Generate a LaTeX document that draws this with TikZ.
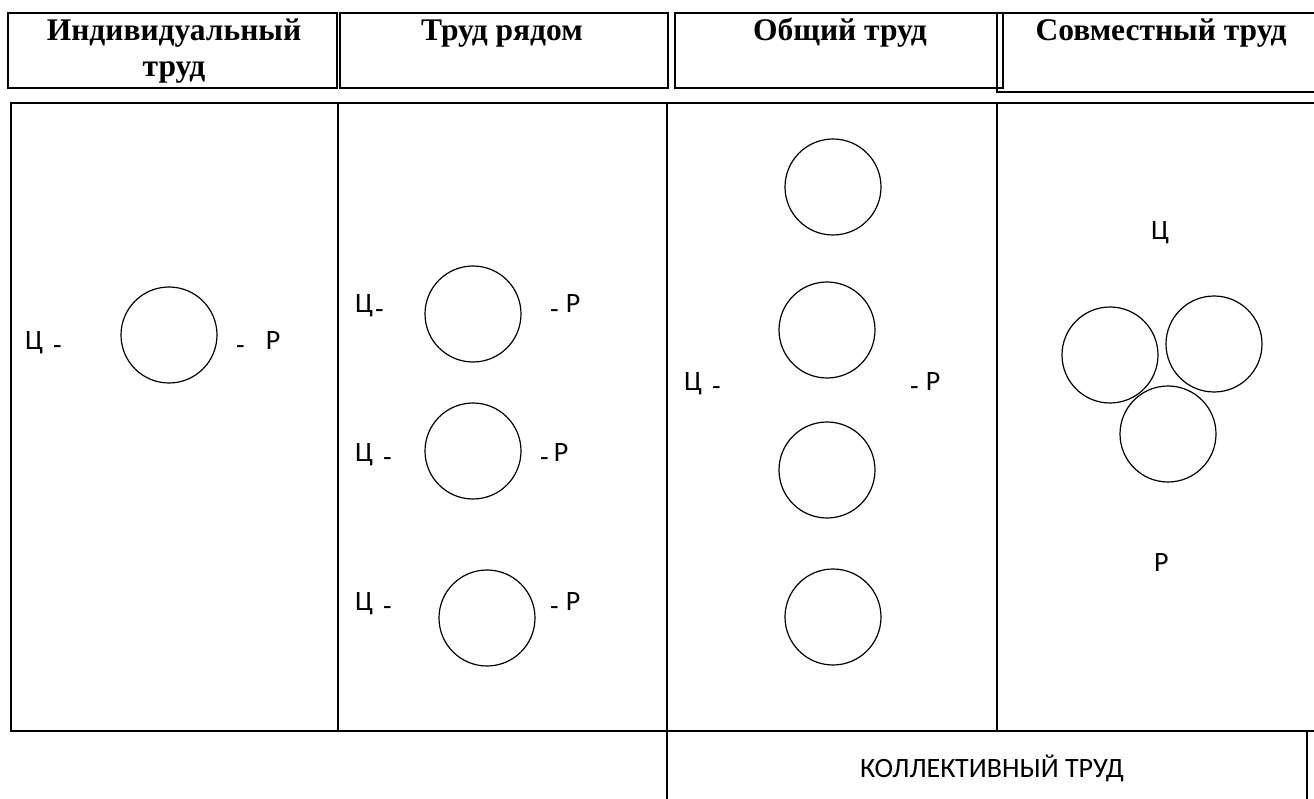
\documentclass[tikz,border=0pt]{standalone}
\usepackage{fontspec}
\setmainfont{Liberation Serif}
\newfontfamily\labfont{Carlito}
\newcommand\lowdash{\raisebox{-5.5pt}{-}}
\tikzset{
  frame/.style={draw=black, line width=1.2pt},
  hdr/.style={draw=black, line width=1.2pt, inner sep=0pt, fill=none},
  htext/.style={inner sep=0pt, font=\bfseries\fontsize{31.5}{36}\selectfont},
  lab/.style={inner sep=0pt, font=\labfont\fontsize{28}{32}\selectfont},
  ring/.style={circle, draw=black, line width=1.2pt, minimum size=96pt, inner sep=0pt},
}
\begin{document}
\begin{tikzpicture}[x=1pt,y=-1pt]
\useasboundingbox (0,0) rectangle (1314,799);
% header boxes
\node[hdr, minimum width=329pt, minimum height=75pt] (h1) at (172.5,50.5) {};
\node[hdr, minimum width=328pt, minimum height=75pt] (h2) at (504,50.5) {};
\node[hdr, minimum width=328pt, minimum height=75pt] (h3) at (839,50.5) {};
\coordinate (h4a) at (1314,13);
\coordinate (h4b) at (997,13);
\coordinate (h4c) at (997,92);
\coordinate (h4d) at (1314,92);
\draw[frame] (h4a) -- (h4b) -- (h4c) -- (h4d);
% header texts
\node[htext, anchor=base] (t1a) at (174,41) {Индивидуальный};
\node[htext, anchor=base] (t1b) at (174,77) {труд};
\node[htext, anchor=base] (t2) at (502,41) {Труд рядом};
\node[htext, anchor=base] (t3) at (840,41) {Общий труд};
\node[htext, anchor=base] (t4) at (1161,41) {Совместный труд};
% main panel
\coordinate (tl) at (11,103);
\coordinate (tr) at (1314,103);
\coordinate (bl) at (11,731);
\coordinate (br) at (1314,731);
\draw[frame] (tr) -- (tl) -- (bl) -- (br);
\coordinate (d1t) at (338,103); \coordinate (d1b) at (338,731);
\coordinate (d2t) at (667,103); \coordinate (d2b) at (667,799);
\coordinate (d3t) at (997,103); \coordinate (d3b) at (997,731);
\draw[frame] (d1t) -- (d1b);
\draw[frame] (d2t) -- (d2b);
\draw[frame] (d3t) -- (d3b);
% collective box
\coordinate (k1) at (667,731);
\coordinate (k2) at (1307,731);
\coordinate (k3) at (1307,799);
\draw[frame] (k1) -- (k2) -- (k3);
\node[lab, anchor=base] (kt) at (992,777) {КОЛЛЕКТИВНЫЙ ТРУД};
% column 1
\node[ring] (c11) at (169,335) {};
\node[lab, anchor=base west] (c1l) at (25,349) {Ц\hspace{10pt}\lowdash};
\node[lab, anchor=base west] (c1r) at (236,349) {\lowdash\hspace{21pt}Р};
% column 2
\node[ring] (c21) at (473,314) {};
\node[ring] (c22) at (473,451) {};
\node[ring] (c23) at (487,618) {};
\node[lab, anchor=base west] (c2l1) at (355,313) {Ц\hspace{2pt}\lowdash};
\node[lab, anchor=base west] (c2r1) at (550,313) {\lowdash\hspace{7pt}Р};
\node[lab, anchor=base west] (c2l2) at (355,461) {Ц\hspace{10pt}\lowdash};
\node[lab, anchor=base west] (c2r2) at (540,461) {\lowdash\hspace{5pt}Р};
\node[lab, anchor=base west] (c2l3) at (355,610) {Ц\hspace{10pt}\lowdash};
\node[lab, anchor=base west] (c2r3) at (550,610) {\lowdash\hspace{7pt}Р};
% column 3
\node[ring] (c31) at (833,187) {};
\node[ring] (c32) at (827,330) {};
\node[ring] (c33) at (827,470) {};
\node[ring] (c34) at (833,617) {};
\node[lab, anchor=base west] (c3l) at (684,390) {Ц\hspace{10pt}\lowdash};
\node[lab, anchor=base west] (c3r) at (910,390) {\lowdash\hspace{7pt}Р};
% column 4
\node[ring] (c41) at (1110,355) {};
\node[ring] (c42) at (1214,344) {};
\node[ring] (c43) at (1168,434) {};
\node[lab, anchor=base west] (c4t) at (1151,240) {Ц};
\node[lab, anchor=base west] (c4b) at (1154,571) {Р};
\end{tikzpicture}
\end{document}
